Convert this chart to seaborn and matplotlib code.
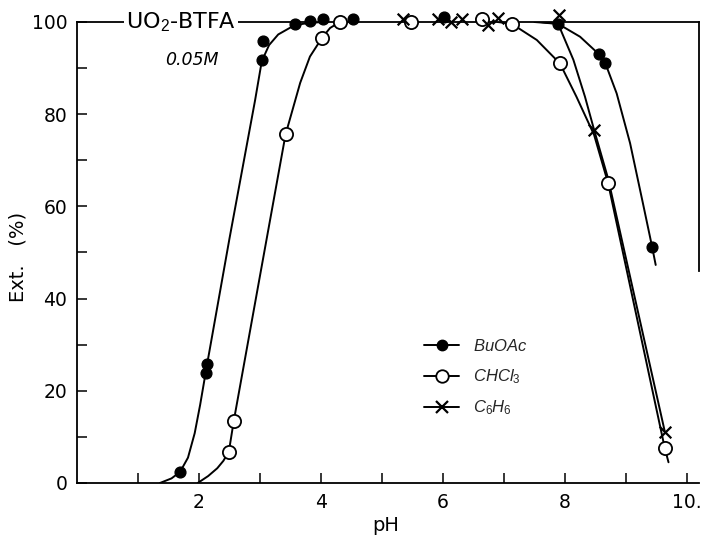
import matplotlib
matplotlib.use("Agg")
import matplotlib.pyplot as plt
import seaborn as sns
from matplotlib.lines import Line2D

# ---- measured points (pH, extraction %) ----
buoac_ph = [1.69, 2.12, 2.13, 3.03, 3.05, 3.58, 3.82, 4.03, 4.53, 6.02, 7.89, 8.56, 8.66, 9.43]
buoac_ext = [2.4, 23.9, 25.8, 91.8, 95.9, 99.6, 100.3, 100.6, 100.6, 101.0, 99.6, 93.0, 91.2, 51.3]
chcl3_ph = [2.49, 2.57, 3.42, 4.02, 4.31, 5.47, 6.64, 7.13, 7.92, 8.71, 9.64]
chcl3_ext = [6.8, 13.4, 75.6, 96.6, 100.0, 100.0, 100.6, 99.6, 91.0, 65.0, 7.5]
c6h6_ph = [5.35, 5.92, 6.14, 6.31, 6.74, 6.90, 7.91, 8.48, 9.64]
c6h6_ext = [100.6, 100.6, 99.9, 100.6, 99.3, 100.8, 101.5, 76.6, 11.1]

# ---- hand-drawn curves ----
buoac_left_ph = [1.36, 1.55, 1.69, 1.82, 1.93, 2.02, 2.13, 2.5, 2.92, 3.03, 3.15, 3.3, 3.5, 3.7, 4.0]
buoac_left_ext = [0, 1.0, 2.4, 5.5, 10.8, 17, 25.5, 53, 83, 91.5, 95, 97.3, 98.8, 99.6, 100]
buoac_right_ph = [7.5, 7.89, 8.25, 8.56, 8.66, 8.85, 9.07, 9.28, 9.43, 9.49]
buoac_right_ext = [100, 99.6, 96.8, 93, 91.2, 84.5, 73.7, 60.7, 51.3, 47.3]
chcl3_left_ph = [1.98, 2.15, 2.3, 2.4, 2.49, 2.57, 3.0, 3.42, 3.66, 3.82, 4.02, 4.15, 4.31]
chcl3_left_ext = [0, 1.5, 3.2, 4.8, 6.8, 13.4, 44.9, 75.6, 86.8, 92.5, 96.6, 98.7, 100]
chcl3_right_ph = [6.9, 7.13, 7.54, 7.92, 8.19, 8.48, 8.71, 9.64, 9.7]
chcl3_right_ext = [100, 99.6, 96.1, 91, 83.8, 75.5, 65, 7.5, 4.5]
c6h6_right_ph = [7.6, 7.89, 8.14, 8.33, 8.48, 8.71, 9.64]
c6h6_right_ext = [100, 99.6, 91.8, 83.8, 76.6, 66, 11.1]

x_ticks = [1, 2, 3, 4, 5, 6, 7, 8, 9, 10]
x_ticklabels = ["", "2", "", "4", "", "6", "", "8", "", "10."]
y_ticks = [0, 10, 20, 30, 40, 50, 60, 70, 80, 90, 100]
y_ticklabels = ["0", "", "20", "", "40", "", "60", "", "80", "", "100"]

sns.set_theme(style="white")
plt.rcParams["font.family"] = ["DejaVu Sans"]
plt.rcParams["mathtext.fontset"] = "custom"
plt.rcParams["mathtext.rm"] = "Liberation Sans"
plt.rcParams["mathtext.it"] = "Liberation Sans:italic"

fig = plt.figure(figsize=(7.02, 5.38), dpi=100)
ax = fig.add_axes([77 / 702, 1 - 483 / 538, 622 / 702, 461 / 538])

lw = 1.4
for xs, ys in [(buoac_left_ph, buoac_left_ext), (buoac_right_ph, buoac_right_ext),
               (chcl3_left_ph, chcl3_left_ext), (chcl3_right_ph, chcl3_right_ext),
               (c6h6_right_ph, c6h6_right_ext)]:
    sns.lineplot(x=xs, y=ys, sort=False, estimator=None, color="black", lw=lw, ax=ax, zorder=2)

sns.scatterplot(x=buoac_ph, y=buoac_ext, marker="o", s=60, color="black",
                edgecolor="black", linewidth=1.0, ax=ax, zorder=4, clip_on=False)
sns.scatterplot(x=chcl3_ph, y=chcl3_ext, marker="o", s=90, facecolor="white",
                edgecolor="black", linewidth=1.3, ax=ax, zorder=4, clip_on=False)
sns.scatterplot(x=c6h6_ph, y=c6h6_ext, marker="x", s=70, color="black",
                linewidth=1.6, ax=ax, zorder=5, clip_on=False)

ax.set_xlim(0, 10.2)
ax.set_ylim(0, 100)
ax.set_xticks(x_ticks)
ax.set_xticklabels(x_ticklabels)
ax.set_yticks(y_ticks)
ax.set_yticklabels(y_ticklabels)
ax.tick_params(bottom=True, left=True, direction="in", length=7, width=1.1,
               colors="black", labelsize=13.5, pad=7)

for sp in ax.spines.values():
    sp.set_color("black")
    sp.set_linewidth(1.3)
ax.spines["right"].set_bounds(46, 100)

ax.set_xlabel("pH", fontsize=14, color="black", va="center")
ax.xaxis.set_label_coords(0.497, -0.093)
ax.set_ylabel("Ext.   (%)", fontsize=14, color="black", va="center")
ax.yaxis.set_label_coords(-0.095, 0.49)

ax.text(1.7, 100, r"UO$_2$-BTFA", ha="center", va="center", fontsize=16, color="black",
        bbox=dict(facecolor="white", edgecolor="none", pad=1.5), zorder=6, clip_on=False)
ax.text(1.89, 91.8, "0.05M", ha="center", va="center", fontsize=12.5, style="italic", color="black")

handles = [
    Line2D([0], [0], color="black", lw=lw, marker="o", ms=7.5, mfc="black", mec="black"),
    Line2D([0], [0], color="black", lw=lw, marker="o", ms=9, mfc="white", mec="black", mew=1.3),
    Line2D([0], [0], color="black", lw=lw, marker="x", ms=9, mec="black", mew=1.6),
]
labels = [r"$BuOAc$", r"$CHCl_3$", r"$C_6H_6$"]
ax.legend(handles, labels, loc="upper left", bbox_to_anchor=(0.545, 0.335), frameon=False,
          fontsize=12, handlelength=2.1, handletextpad=0.8, labelspacing=0.75, borderpad=0)

fig.savefig("out.png", dpi=100)
